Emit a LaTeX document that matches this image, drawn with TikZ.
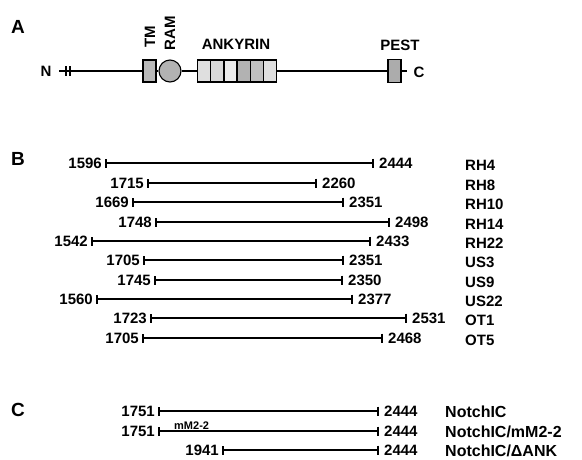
\documentclass[tikz,border=0pt]{standalone}
\usepackage{fontspec}
\setmainfont{Liberation Sans}
\usetikzlibrary{arrows.meta,positioning}

\begin{document}
\begin{tikzpicture}[
  x=1pt, y=-1pt,
  node distance=3pt,
  panel/.style={font=\fontsize{19}{21}\selectfont\bfseries, inner sep=0pt},
  num/.style={font=\fontsize{15}{17}\selectfont\bfseries, inner sep=0pt},
  lbl/.style={font=\fontsize{15}{17}\selectfont\bfseries, inner sep=0pt, anchor=west},
  dom/.style={draw=black, line width=1.1pt, minimum width=13pt, minimum height=22pt, inner sep=0pt},
  bb/.style={line width=1.8pt},
  frag/.style={line width=1.8pt, {Bar[width=9pt,line width=1.6pt]}-{Bar[width=9pt,line width=1.6pt]}}
]
\useasboundingbox (0,0) rectangle (582,459);

% panel A: domain map
\node[panel] (pa) at (18,27) {A};
\node[num] (nt) at (46,71) {N};
\coordinate (n0) at (59,71);
\node[dom, fill=gray!55] (tm) at (149.5,71) {};
\node[dom, circle, minimum size=22pt, fill=gray!60] (ram) at (170,71) {};
\foreach \c [count=\i] in {25,30,15,60,50,25}
  \node[dom, fill=gray!\c, anchor=west] (ank\i) at (197+13.2*\i-13.2,71) {};
\node[dom, fill=gray!65, minimum height=23pt] (pest) at (394.5,71) {};
\node[num] (ct) at (419,72) {C};
\coordinate (c0) at (407,71);
\draw[bb] (n0) -- (tm.west);
\draw[bb] (tm.east) -- (ram.west);
\draw[bb] (ram.east) -- (ank1.west);
\draw[bb] (ank6.east) -- (pest.west);
\draw[bb] (pest.east) -- (c0);
\draw[line width=1.3pt] (66,66) -- (66,76) (70,66) -- (70,76);
\node[num, rotate=90] (tmt) at (150,37) {TM};
\node[num, rotate=90] (ramt) at (170,33) {RAM};
\node[num] (ankt) at (236,44) {ANKYRIN};
\node[num] (pestt) at (400,45) {PEST};

% panel B: clones
\node[panel] (pb) at (18,159) {B};
\foreach \y/\a/\ra/\b/\rb/\nm [count=\i] in {
  163/105/1596/374/2444/RH4, 183/147/1715/317/2260/RH8,
  202/132/1669/344/2351/RH10, 222/155/1748/390/2498/RH14,
  241/91/1542/371/2433/RH22, 260/143/1705/344/2351/US3,
  280/154/1745/343/2350/US9, 299/96/1560/353/2377/US22,
  318/150/1723/407/2531/OT1, 338/142/1705/383/2468/OT5} {
  \coordinate (s\i) at (\a,\y);
  \coordinate (e\i) at (\b,\y);
  \draw[frag] (s\i) -- (e\i);
  \node[num, left=of s\i] (ls\i) {\ra};
  \node[num, right=5pt of e\i] (le\i) {\rb};
  \node[lbl] (nm\i) at (465,\y+2) {\nm};
}

% panel C: constructs
\node[panel] (pc) at (18,410) {C};
\foreach \y/\a/\ra/\nm [count=\i] in {
  411/158/1751/{NotchIC}, 431/158/1751/{NotchIC/mM2-2}, 450/222/1941/{NotchIC/ΔANK}} {
  \coordinate (cs\i) at (\a,\y);
  \coordinate (ce\i) at (379,\y);
  \draw[frag] (cs\i) -- (ce\i);
  \node[num, left=of cs\i] (cl\i) {\ra};
  \node[num, right=5pt of ce\i] (cr\i) {2444};
  \node[lbl, font=\fontsize{16}{18}\selectfont\bfseries] (cn\i) at (445,\y+1) {\nm};
}
\node[font=\fontsize{11}{12}\selectfont\bfseries, inner sep=0pt, above right=1.5pt and 16pt of cs2] (mm) {mM2-2};
\end{tikzpicture}
\end{document}
